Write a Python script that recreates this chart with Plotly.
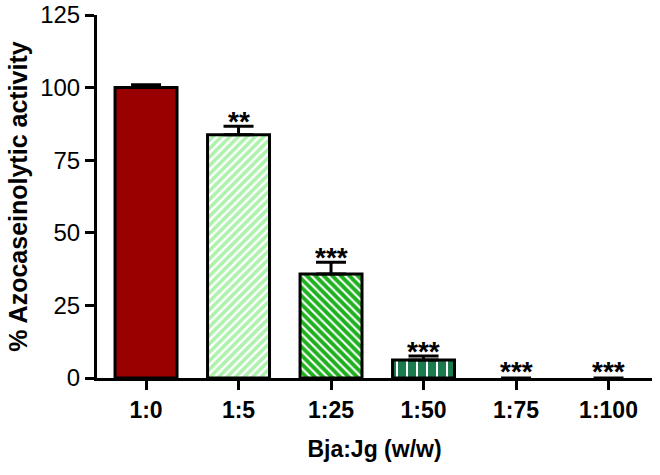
import plotly.graph_objects as go

categories = ["1:0", "1:5", "1:25", "1:50", "1:75", "1:100"]
values = [100, 83.8, 35.8, 6.2, 0, 0]
errors = [1.0, 2.9, 4.1, 1.4, 0, 0]
stars = ["", "**", "***", "***", "***", "***"]
bar_colors = ["#990000", "#aef2ae", "#1eb01e", "#1b7a4e", "#ffffff", "#ffffff"]
patterns = ["", "/", "\\", "|", "", ""]
line_widths = [3, 3, 3, 3, 0, 0]

fig = go.Figure()
fig.add_trace(go.Bar(
    x=categories, y=values, width=0.67,
    marker=dict(
        color=bar_colors,
        line=dict(color="black", width=line_widths),
        pattern=dict(shape=patterns, fgcolor=bar_colors, bgcolor=["white"] * 6,
                     size=[6, 6, 6, 10, 6, 6], solidity=[0.5, 0.6, 0.65, 0.8, 0.5, 0.5],
                     fillmode="replace"),
    ),
    error_y=dict(type="data", array=errors, arrayminus=[0] * 6, symmetric=False,
                 color="black", thickness=3, width=15),
    showlegend=False,
))

font = "Liberation Sans, Arial, sans-serif"
for c, v, e, s in zip(categories, values, errors, stars):
    if s:
        fig.add_annotation(x=c, y=v + e, text="<b>" + s + "</b>", showarrow=False,
                           yanchor="bottom", yshift=-13 if v > 0 else -11,
                           font=dict(family=font, size=28, color="black"))

fig.update_layout(
    width=660, height=475,
    margin=dict(l=97, r=8, t=15, b=97, autoexpand=False),
    plot_bgcolor="white", paper_bgcolor="white",
    font=dict(family=font, color="black"),
)
fig.update_xaxes(
    range=[-0.53, 5.47], showline=True, linecolor="black", linewidth=3,
    ticks="outside", ticklen=9, tickwidth=3, tickcolor="black",
    tickfont=dict(family=font, size=23, color="black"),
    title=dict(text="<b>Bja:Jg (w/w)</b>", font=dict(family=font, size=23), standoff=20),
    tickprefix="<b>", ticksuffix="</b>", automargin=False,
)
fig.update_yaxes(
    range=[0, 125], tickvals=[0, 25, 50, 75, 100, 125],
    showline=True, linecolor="black", linewidth=3, showgrid=False, zeroline=False,
    ticks="outside", ticklen=9, tickwidth=3, tickcolor="black",
    tickfont=dict(family=font, size=24, color="black"),
    tickprefix="<b>", ticksuffix="</b>",
    title=dict(text="<b>% Azocaseinolytic activity</b>", font=dict(family=font, size=25), standoff=6),
    automargin=False,
)

fig.write_html("out.html", config={"displayModeBar": False},
               post_script="document.body.style.margin='0';")
